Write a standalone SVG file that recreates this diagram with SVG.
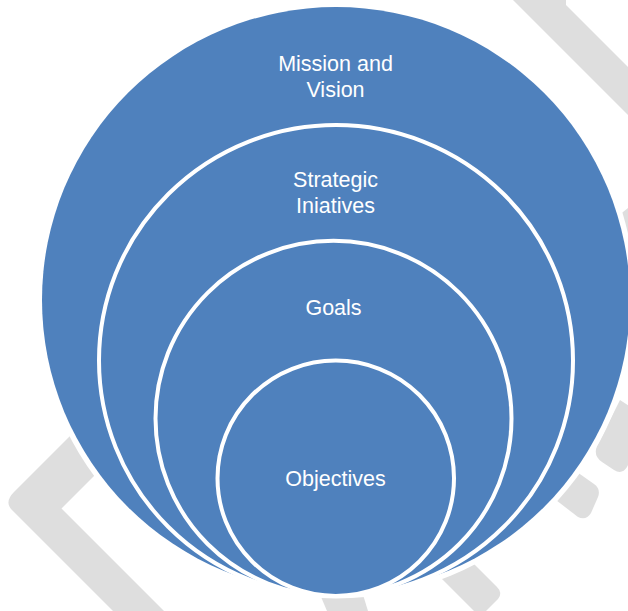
<svg xmlns="http://www.w3.org/2000/svg" width="628" height="611" viewBox="0 0 628 611">
  <style>
    .wm { fill: #dedede; stroke: none; }
    .halo { fill: #ffffff; stroke: none; }
    .ring { fill: #4f81bd; stroke: #ffffff; stroke-width: 4; }
    .outer { fill: #4f81bd; stroke: none; }
    .lbl { fill: #ffffff; font-family: "Liberation Sans", Arial, sans-serif; font-size: 21.5px; text-anchor: middle; }
  </style>
  <rect width="628" height="611" fill="#ffffff"/>
  <g id="watermark">
    <polygon class="wm" points="513,0 566,0 566,5 628,67 628,115"/>
    <polygon class="wm" points="618,216 628,208 628,258 612,258"/>
    <path class="wm" d="M 150,356 L 14,492 Q 4,502 12,510 L 113,611 L 164,611 L 61.5,508.5 L 190,380 Z"/>
    <path class="wm" d="M 620,400 L 597,446 Q 593,456 602,462 L 614,470 Q 622,475 627,467 L 650,420 Z"/>
    <path class="wm" d="M 530,480 L 578,517 Q 586,521 591,513 L 598,497 Q 601,489 594,484 L 560,460 Z"/>
    <path class="wm" d="M 420,557 L 474,611 L 486,611 L 498,599 Q 503,593 497,587 L 460,550 Z"/>
    <polygon class="wm" points="316,585 360,585 368,611 327,611"/>
  </g>
  <ellipse class="halo" cx="336" cy="300" rx="299.5" ry="298.5"/>
  <g id="connectors"/>
  <g id="node-mission">
    <ellipse class="outer" cx="336" cy="300" rx="294" ry="293"/>
    <text class="lbl" x="335.5" y="71">Mission and</text>
    <text class="lbl" x="335.5" y="97.3">Vision</text>
  </g>
  <g id="node-strategic">
    <ellipse class="ring" cx="336" cy="360.5" rx="237" ry="235.5"/>
    <text class="lbl" x="335.5" y="186.7">Strategic</text>
    <text class="lbl" x="335.5" y="213.3">Iniatives</text>
  </g>
  <g id="node-goals">
    <ellipse class="ring" cx="333.5" cy="418.4" rx="178" ry="177.6"/>
    <text class="lbl" x="333.5" y="315">Goals</text>
  </g>
  <g id="node-objectives">
    <ellipse class="ring" cx="335.75" cy="478.25" rx="118.25" ry="117.75"/>
    <text class="lbl" x="335.5" y="485.7">Objectives</text>
  </g>
</svg>
